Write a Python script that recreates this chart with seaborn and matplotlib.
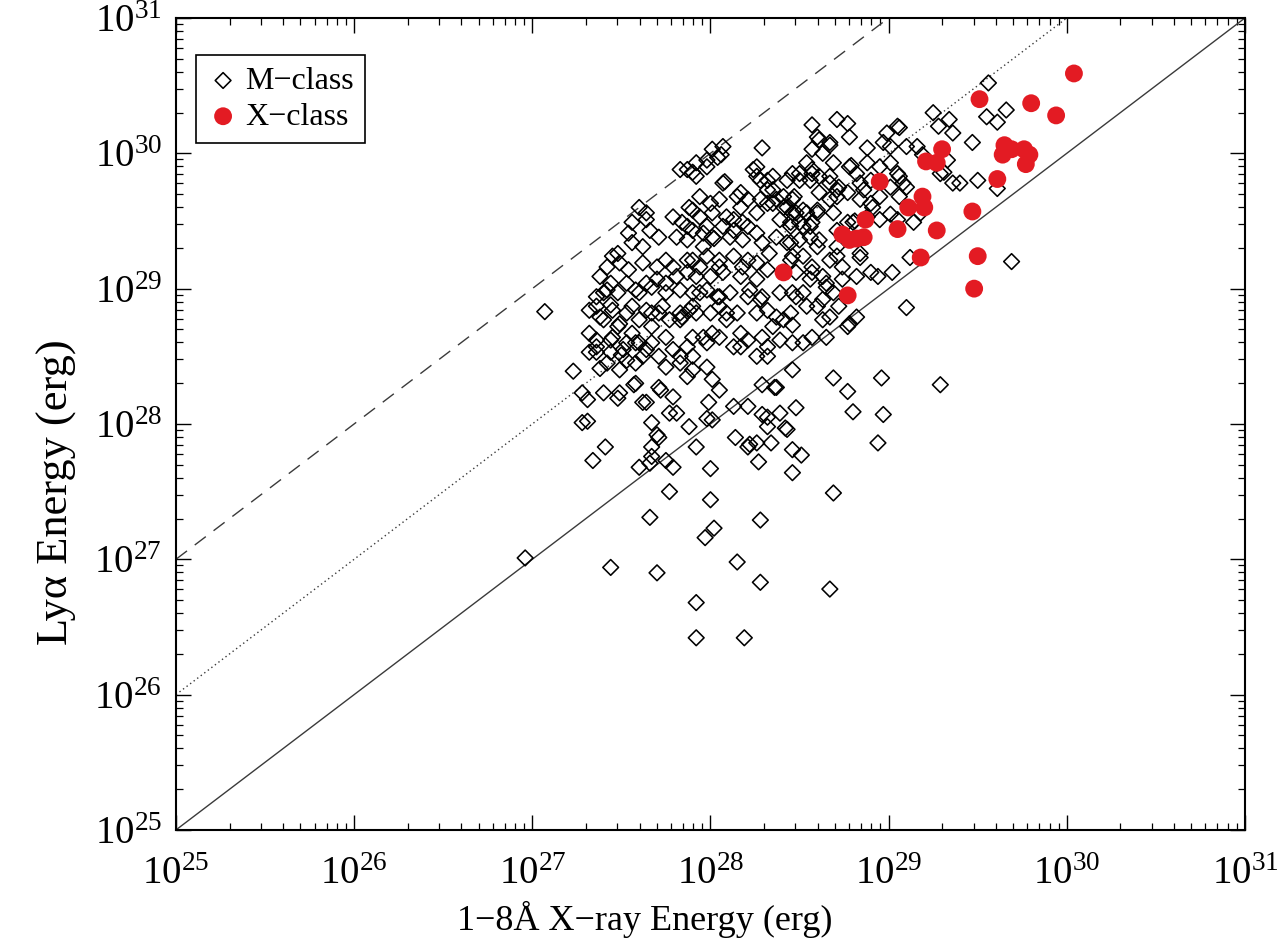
import matplotlib
matplotlib.use("Agg")
import numpy as np
import pandas as pd
import seaborn as sns
import matplotlib.pyplot as plt
from matplotlib.ticker import LogLocator, NullFormatter

# Flare energies as (log10 1-8 A X-ray energy, log10 Ly-alpha energy), erg.
m_low_scatter = [
    (27.07, 28.83), (26.96, 27.01), (27.23, 28.39), (27.31, 28.18), (27.31, 28.02),
    (27.28, 28.01), (27.34, 27.73), (27.41, 27.83), (27.48, 28.19), (27.38, 28.41),
    (27.36, 28.53), (27.32, 28.53), (27.44, 28.53), (27.50, 28.51), (27.53, 28.47),
    (27.57, 28.29), (27.62, 28.16), (27.67, 28.01), (27.70, 27.92), (27.67, 27.83),
    (27.60, 27.68), (27.66, 27.71), (27.75, 27.73), (27.79, 27.68), (27.72, 28.25),
    (27.79, 28.20), (27.77, 28.08), (27.81, 28.08), (27.88, 27.98), (27.92, 27.83),
    (28.00, 27.67), (27.99, 28.16), (27.98, 28.04), (28.01, 28.03), (28.13, 28.13),
    (28.21, 28.13), (28.14, 27.90), (28.21, 27.83), (28.26, 27.86), (28.34, 27.86),
    (28.27, 27.72), (28.32, 28.05), (28.39, 28.08), (28.48, 28.12), (28.43, 27.96),
    (28.46, 27.81), (28.51, 27.77), (28.46, 27.64), (28.69, 27.49), (28.69, 28.34),
    (28.77, 28.24), (28.80, 28.09), (28.94, 27.86), (28.97, 28.07), (28.96, 28.34),
    (29.29, 28.29), (29.10, 28.86), (28.46, 28.40), (28.36, 28.27), (28.29, 28.29),
    (27.77, 27.50), (28.00, 27.44), (27.66, 27.31), (28.02, 27.23), (27.97, 27.16),
    (28.28, 27.29), (28.15, 26.98), (28.28, 26.83), (28.67, 26.78), (27.44, 26.94),
    (27.70, 26.90), (27.92, 26.68), (27.92, 26.42), (28.19, 26.42), (27.64, 28.16),
    (27.71, 27.90), (27.67, 27.76), (28.37, 28.27), (28.29, 28.07), (28.32, 27.98),
    (28.42, 27.97), (28.22, 27.85), (29.69, 29.20),
]

m_mid_band = [
    (28.77, 28.72), (28.57, 28.64), (28.52, 28.60), (28.63, 28.77), (28.46, 28.73),
    (28.41, 28.77), (28.29, 28.64), (28.26, 28.50), (28.32, 28.50), (28.17, 28.57),
    (28.17, 28.67), (28.09, 28.77), (28.15, 28.82), (27.96, 28.64), (28.01, 28.67),
    (27.98, 28.42), (28.01, 28.33), (28.05, 28.25), (27.87, 28.35), (27.83, 28.50),
    (27.79, 28.55), (27.62, 28.50), (27.60, 28.60), (27.56, 28.67), (27.48, 28.72),
    (27.40, 28.77), (27.36, 28.62), (27.67, 28.72), (27.71, 28.82), (27.83, 28.77),
    (27.88, 28.84), (27.36, 28.87), (27.44, 28.88), (27.56, 28.87), (27.64, 28.84),
    (28.46, 28.60), (28.35, 28.72),
]

m_upper_right = [
    (29.56, 30.52), (29.55, 30.27), (29.66, 30.32), (29.61, 30.23), (29.25, 30.30),
    (29.34, 30.25), (29.36, 30.15), (29.47, 30.08), (29.28, 30.20), (29.05, 30.20),
    (29.06, 30.19), (28.99, 30.15), (28.88, 30.04), (28.97, 30.08), (29.10, 30.05),
    (29.16, 30.05), (29.19, 29.99), (29.31, 29.86), (29.36, 29.78), (29.40, 29.78),
    (29.50, 29.80), (29.61, 29.74), (29.33, 29.95), (29.29, 29.85), (28.57, 30.21),
    (28.61, 30.10), (28.71, 30.25), (28.77, 30.22), (28.78, 30.12), (28.67, 30.08),
    (28.54, 29.93), (28.57, 29.85), (28.63, 30.00), (28.69, 29.93), (28.78, 29.90),
    (28.79, 29.91), (28.82, 29.85), (28.88, 29.93), (28.95, 29.90), (28.90, 29.80),
    (29.05, 29.85), (29.08, 29.78), (28.77, 29.71), (28.86, 29.73), (28.95, 29.68),
    (29.01, 29.75), (29.10, 29.75), (28.84, 29.66), (28.91, 29.60), (29.06, 29.68),
    (28.80, 29.49), (28.81, 29.50), (29.01, 29.55), (29.05, 29.51), (29.14, 29.49),
    (29.18, 29.56), (28.67, 29.66), (28.60, 29.56), (28.56, 29.46), (28.61, 29.36),
    (28.50, 29.36), (28.45, 29.46), (28.71, 29.24), (28.84, 29.23), (28.90, 29.12),
    (29.02, 29.12), (28.74, 29.07), (28.57, 29.12), (28.65, 29.01), (28.52, 28.97),
    (28.60, 28.87), (28.67, 28.79), (28.78, 28.74), (28.46, 29.24), (28.45, 29.34),
    (28.47, 29.68), (28.46, 29.56), (28.43, 29.80), (28.50, 29.80), (28.41, 29.68),
    (29.01, 30.05), (29.01, 29.93), (29.06, 29.83), (28.90, 29.63), (29.12, 29.23),
]

m_core = [
    (28.29, 30.04), (28.07, 29.78), (28.08, 29.79), (28.60, 30.12), (28.57, 30.03),
    (28.67, 30.06), (28.26, 29.90), (28.26, 29.83), (28.32, 29.80), (28.35, 29.73),
    (28.50, 29.85), (28.56, 29.80), (28.61, 29.83), (28.67, 29.78), (28.71, 29.73),
    (28.84, 29.78), (27.92, 29.93), (27.98, 29.95), (28.04, 29.97), (27.92, 29.83),
    (27.94, 29.68), (28.00, 29.63), (28.05, 29.66), (28.15, 29.68), (28.17, 29.60),
    (28.21, 29.66), (28.26, 29.56), (28.32, 29.63), (28.37, 29.66), (28.43, 29.60),
    (28.48, 29.56), (28.54, 29.56), (28.60, 29.58), (28.39, 29.51), (28.45, 29.49),
    (28.52, 29.46), (28.57, 29.49), (28.13, 29.51), (28.18, 29.49), (28.07, 29.46),
    (27.98, 29.46), (28.01, 29.38), (28.02, 29.37), (27.96, 29.31), (28.11, 29.38),
    (28.18, 29.36), (28.26, 29.41), (28.29, 29.34), (28.37, 29.38), (28.43, 29.34),
    (28.56, 29.38), (28.60, 29.31), (28.33, 29.26), (28.45, 29.21), (28.52, 29.24),
    (28.57, 29.16), (27.90, 29.21), (27.98, 29.24), (28.05, 29.21), (28.13, 29.24),
    (28.21, 29.21), (27.92, 29.09), (28.00, 29.09), (28.07, 29.12), (28.17, 29.09),
    (28.26, 29.07), (28.48, 29.12), (28.56, 29.07), (28.63, 29.09), (27.94, 28.97),
    (28.04, 28.94), (28.11, 28.97), (28.21, 28.94), (28.29, 28.94), (28.39, 28.97),
    (28.48, 28.94), (28.54, 28.87), (28.63, 28.92), (27.92, 28.82), (28.00, 28.82),
    (28.09, 28.82), (28.26, 28.82), (28.37, 28.79), (28.45, 28.82), (28.67, 29.21),
    (28.71, 29.31), (28.65, 29.04), (28.74, 29.16), (28.84, 29.26), (28.82, 29.09),
    (28.72, 28.87), (28.82, 28.79),
]

m_left_wing = [
    (27.90, 29.86), (27.64, 29.51), (27.66, 29.43), (27.54, 29.41), (27.56, 29.34),
    (27.79, 29.53), (27.84, 29.49), (27.90, 29.58), (27.81, 29.38), (27.87, 29.36),
    (27.90, 29.43), (27.45, 29.24), (27.38, 29.09), (27.49, 29.19), (27.54, 29.14),
    (27.62, 29.19), (27.70, 29.16), (27.75, 29.21), (27.36, 28.94), (27.42, 28.99),
    (27.48, 28.97), (27.53, 29.04), (27.58, 28.99), (27.64, 29.04), (27.70, 29.07),
    (27.75, 29.04), (27.81, 29.09), (27.87, 29.12), (27.38, 28.79), (27.45, 28.84),
    (27.49, 28.74), (27.60, 28.77), (27.67, 28.82), (27.73, 28.87), (27.77, 28.77),
    (27.84, 28.79), (27.36, 28.57), (27.44, 28.62), (27.51, 28.55), (27.58, 28.60),
    (27.64, 28.55), (27.71, 28.50), (27.87, 28.57), (27.90, 28.50), (27.42, 28.45),
    (27.49, 28.40), (27.58, 28.45), (27.75, 28.42), (27.83, 28.45), (27.90, 28.40),
    (27.49, 28.23), (27.58, 28.30), (27.71, 28.27), (27.40, 28.23), (27.28, 28.23),
]

m_fill = [
    (27.98, 29.90), (28.06, 29.99), (28.57, 29.88), (28.67, 29.83), (28.72, 29.75),
    (28.61, 29.71), (28.71, 29.68), (28.46, 29.85), (28.24, 29.88), (28.28, 29.80),
    (28.35, 29.83), (28.32, 29.73), (28.17, 29.71), (28.28, 29.66), (28.35, 29.63),
    (28.41, 29.60), (28.46, 29.66), (28.52, 29.58), (28.50, 29.49), (28.69, 29.56),
    (28.77, 29.49), (28.71, 29.43), (28.88, 29.53), (28.95, 29.51), (28.94, 29.09),
    (28.69, 28.97), (28.46, 28.97), (28.65, 28.64), (27.88, 29.60), (27.94, 29.53),
    (28.01, 29.56), (27.87, 29.46), (27.96, 29.41), (28.09, 29.53), (28.13, 29.43),
    (28.21, 29.46), (27.64, 29.56), (27.71, 29.38), (27.83, 29.88), (28.01, 30.03),
    (28.07, 30.05), (27.62, 29.31), (27.48, 29.26), (27.42, 29.16), (27.79, 29.16),
    (27.87, 29.21), (27.94, 29.16), (28.05, 29.16), (28.18, 29.16), (28.26, 29.19),
    (28.32, 29.14), (27.40, 28.97), (27.44, 29.04), (27.60, 28.97), (27.67, 29.01),
    (27.75, 28.97), (27.83, 28.99), (27.90, 28.97), (27.98, 28.99), (28.05, 28.94),
    (28.22, 28.99), (28.28, 28.92), (27.32, 28.84), (27.53, 28.82), (27.83, 28.82),
    (27.90, 28.87), (28.05, 28.87), (28.32, 28.84), (27.32, 28.67), (27.45, 28.64),
    (27.53, 28.60), (27.67, 28.60), (27.75, 28.64), (27.90, 28.64), (27.98, 28.60),
    (28.05, 28.64), (28.13, 28.57), (28.21, 28.62), (28.32, 28.57), (28.39, 28.62),
    (27.87, 29.88), (27.56, 29.49), (27.60, 29.60),
]

x_class = [
    (30.04, 30.59), (29.51, 30.40), (29.80, 30.37), (29.94, 30.28), (29.65, 30.06),
    (29.69, 30.03), (29.64, 29.99), (29.76, 30.03), (29.79, 29.99), (29.77, 29.92),
    (29.61, 29.81), (29.47, 29.57), (29.50, 29.24), (29.48, 29.00), (29.30, 30.03),
    (29.21, 29.94), (29.27, 29.93), (28.95, 29.79), (29.19, 29.68), (29.20, 29.60),
    (29.11, 29.60), (29.27, 29.43), (29.05, 29.44), (28.87, 29.51), (28.74, 29.40),
    (28.78, 29.36), (28.82, 29.37), (28.86, 29.38), (29.18, 29.23), (28.77, 28.95),
    (28.41, 29.12),
]

# Reference ratios Ly-alpha / X-ray drawn as guide lines
ratio_values = [1.0, 10.0, 100.0]
ratio_styles = ["-", (0, (1, 2.2)), (0, (10, 7))]
axis_limits = (1e25, 1e31)

m_pairs = m_low_scatter + m_mid_band + m_upper_right + m_core + m_left_wing + m_fill
df_m = pd.DataFrame(m_pairs, columns=["log_xray", "log_lya"])
df_x = pd.DataFrame(x_class, columns=["log_xray", "log_lya"])
for df in (df_m, df_x):
    df["xray"] = 10.0 ** df["log_xray"]
    df["lya"] = 10.0 ** df["log_lya"]

sns.set_style("ticks")
plt.rcParams["font.family"] = ["Liberation Serif", "DejaVu Serif"]
plt.rcParams["mathtext.fontset"] = "custom"
plt.rcParams["mathtext.rm"] = "Liberation Serif"
plt.rcParams["mathtext.it"] = "Liberation Serif:italic"
plt.rcParams["mathtext.bf"] = "Liberation Serif:bold"
for key in ("text.color", "axes.labelcolor", "xtick.color", "ytick.color",
            "axes.edgecolor"):
    plt.rcParams[key] = "black"

fig = plt.figure(figsize=(12.88, 9.41), dpi=100)
ax = fig.add_axes([0.1366, 0.1180, 0.8300, 0.8629])
ax.set_xscale("log")
ax.set_yscale("log")

ref_x = np.array(axis_limits)
for ratio, ls in zip(ratio_values, ratio_styles):
    ax.plot(ref_x, ratio * ref_x, linestyle=ls, color="#3a3a3a", lw=1.0, zorder=1)

sns.scatterplot(data=df_m, x="xray", y="lya", ax=ax, marker="D", s=64,
                facecolors="none", edgecolor="black", linewidth=1.15,
                label="M\u2212class", zorder=3)
sns.scatterplot(data=df_x, x="xray", y="lya", ax=ax, marker="o", s=165,
                color="#e31b23", edgecolor="none", linewidth=0,
                label="X\u2212class", zorder=4)

ax.set_xlim(*axis_limits)
ax.set_ylim(*axis_limits)

for axis in (ax.xaxis, ax.yaxis):
    axis.set_major_locator(LogLocator(base=10, numticks=10))
    axis.set_minor_locator(LogLocator(base=10, subs=np.arange(2, 10), numticks=100))
    axis.set_minor_formatter(NullFormatter())

ax.tick_params(which="both", direction="in", top=True, right=True, colors="black")
ax.tick_params(which="major", length=11, width=1.0, labelsize=28)
ax.tick_params(axis="x", which="major", pad=19)
ax.tick_params(axis="y", which="major", pad=10)
ax.tick_params(which="minor", length=5, width=0.9)
for sp in ax.spines.values():
    sp.set_linewidth(1.5)
    sp.set_color("black")

ax.set_xlabel("1\u22128\u00c5 X\u2212ray Energy (erg)", fontsize=26)
ax.xaxis.set_label_coords(0.439, -0.087)
ax.set_ylabel("Ly\u03b1 Energy (erg)", fontsize=32)
ax.yaxis.set_label_coords(-0.093, 0.416)

leg = ax.legend(loc="upper left", bbox_to_anchor=(0.0187, 0.954), borderaxespad=0,
                fontsize=23, frameon=True, fancybox=False, framealpha=1,
                edgecolor="black", handletextpad=0.2, borderpad=0.35,
                labelspacing=0.2, handlelength=1.0)
leg.get_frame().set_linewidth(1.2)

fig.savefig("out.png", dpi=100)
